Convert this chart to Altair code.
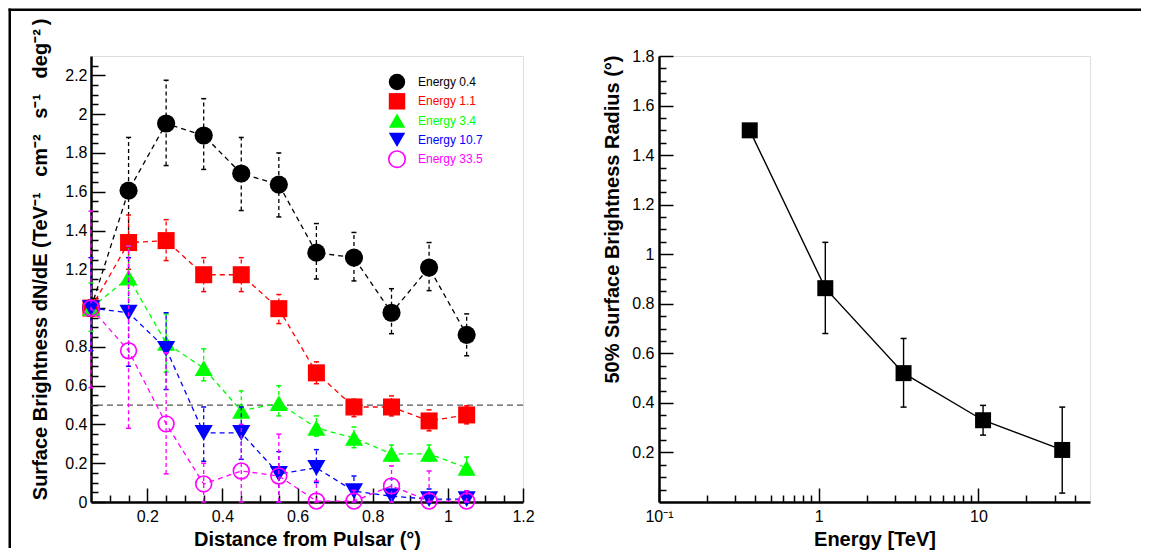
import altair as alt
import pandas as pd

# ---------------- data: left panel ----------------
distance = [0.05, 0.15, 0.25, 0.35, 0.45, 0.55, 0.65, 0.75, 0.85, 0.95, 1.05]
series_names = ["Energy 0.4", "Energy 1.1", "Energy 3.4", "Energy 10.7", "Energy 33.5"]

e04_val = [1.0, 1.606, 1.952, 1.89, 1.694, 1.637, 1.286, 1.26, 0.976, 1.209, 0.862]
e04_hi = [1.03, 1.88, 2.175, 2.08, 1.88, 1.80, 1.436, 1.39, 1.10, 1.338, 0.97]
e04_lo = [0.97, 1.33, 1.735, 1.715, 1.503, 1.47, 1.15, 1.14, 0.868, 1.09, 0.754]

e11_val = [1.0, 1.338, 1.348, 1.172, 1.172, 0.997, 0.666, 0.49, 0.49, 0.418, 0.449]
e11_hi = [1.04, 1.48, 1.456, 1.26, 1.26, 1.07, 0.723, 0.53, 0.547, 0.475, 0.496]
e11_lo = [0.96, 1.20, 1.245, 1.085, 1.085, 0.92, 0.61, 0.44, 0.444, 0.367, 0.403]

e34_val = [1.0, 1.157, 0.82, 0.69, 0.47, 0.51, 0.382, 0.33, 0.248, 0.248, 0.176]
e34_hi = [1.13, 1.32, 0.97, 0.79, 0.573, 0.60, 0.444, 0.387, 0.294, 0.294, 0.232]
e34_lo = [0.88, 1.0, 0.67, 0.625, 0.38, 0.444, 0.34, 0.28, 0.21, 0.21, 0.14]

e107_val = [1.0, 0.976, 0.79, 0.356, 0.356, 0.145, 0.176, 0.056, 0.03, 0.015, 0.015]
e107_hi = [1.26, 1.26, 0.976, 0.49, 0.49, 0.26, 0.27, 0.134, 0.12, 0.067, 0.057]
e107_lo = [0.78, 0.70, 0.58, 0.21, 0.22, 0.0, 0.1, 0.0, 0.0, 0.0, 0.0]

e335_val = [1.0, 0.78, 0.403, 0.093, 0.16, 0.134, 0.005, 0.005, 0.083, 0.005, 0.005]
e335_hi = [1.50, 1.32, 0.77, 0.20, 0.40, 0.35, 0.108, 0.06, 0.186, 0.16, 0.057]
e335_lo = [0.59, 0.38, 0.145, 0.0, 0.0, 0.0, 0.0, 0.0, 0.0, 0.0, 0.0]

half_level = [0.5]

# ---------------- data: right panel ----------------
energy = [0.37, 1.1, 3.4, 10.7, 33.5]
radius = [1.50, 0.863, 0.52, 0.33, 0.21]
radius_hi = [1.50, 1.048, 0.66, 0.39, 0.383]
radius_lo = [1.50, 0.68, 0.383, 0.27, 0.036]

# ---------------- tick values ----------------
left_x_major = [0.2, 0.4, 0.6, 0.8, 1.0, 1.2]
left_x_minor = [0.1, 0.15, 0.25, 0.3, 0.35, 0.45, 0.5, 0.55, 0.65, 0.7, 0.75,
                0.85, 0.9, 0.95, 1.05, 1.1, 1.15]
left_y_labels = [0, 0.2, 0.4, 0.6, 0.8, 1.2, 1.4, 1.6, 1.8, 2.0, 2.2]
left_y_major = [0, 0.2, 0.4, 0.6, 0.8, 1.0, 1.2, 1.4, 1.6, 1.8, 2.0, 2.2]
left_y_minor = [0.05, 0.1, 0.15, 0.25, 0.3, 0.35, 0.45, 0.5, 0.55, 0.65, 0.7, 0.75,
                0.85, 0.9, 0.95, 1.05, 1.1, 1.15, 1.25, 1.3, 1.35, 1.45, 1.5, 1.55,
                1.65, 1.7, 1.75, 1.85, 1.9, 1.95, 2.05, 2.1, 2.15, 2.25]
right_x_major = [0.1, 1, 10]
right_x_minor = [0.2, 0.3, 0.4, 0.5, 0.6, 0.7, 0.8, 0.9, 2, 3, 4, 5, 6, 7, 8, 9, 20, 30, 40]
right_y_labels = [0.2, 0.4, 0.6, 0.8, 1.0, 1.2, 1.4, 1.6, 1.8]
right_y_major = [0.2, 0.4, 0.6, 0.8, 1.0, 1.2, 1.4, 1.6, 1.8]
right_y_minor = [0.05, 0.1, 0.15, 0.25, 0.3, 0.35, 0.45, 0.5, 0.55, 0.65, 0.7, 0.75,
                 0.85, 0.9, 0.95, 1.05, 1.1, 1.15, 1.25, 1.3, 1.35, 1.45, 1.5, 1.55,
                 1.65, 1.7, 1.75]

left_y_title = "Surface Brightness dN/dE (TeV⁻¹\u2002 cm⁻²\u2002 s⁻¹\u2002 deg⁻²\u2009)"

# ---------------- styles ----------------
series_colors = ["#000000", "#ff0000", "#00ff00", "#0000ff", "#ff00ff"]
series_shapes = ["circle", "square", "triangle-up", "triangle-down", "circle"]
series_filled = [True, True, True, True, False]
series_sizes = [330, 290, 330, 330, 250]

FONT = "Liberation Sans"
W1, H1 = 432, 446
W2, H2 = 431, 446

series_vals = [e04_val, e11_val, e34_val, e107_val, e335_val]
series_his = [e04_hi, e11_hi, e34_hi, e107_hi, e335_hi]
series_los = [e04_lo, e11_lo, e34_lo, e107_lo, e335_lo]

xs1 = alt.Scale(domain=[0.05, 1.2], nice=False, zero=False)
ys1 = alt.Scale(domain=[0, 2.3], nice=False, zero=False)

NOAX = None


def xq(field, scale):
    return alt.X(field, type="quantitative", scale=scale, axis=NOAX)


def yq(field, scale):
    return alt.Y(field, type="quantitative", scale=scale, axis=NOAX)


left_layers = []

# outer frame (decoration drawn as thin rects; layout uses flush bounds)
frame_df = pd.DataFrame({"f": [0]})
left_layers.append(
    alt.Chart(frame_df).mark_rect(color="black", strokeWidth=0).encode(
        x=alt.value(-82.5), x2=alt.value(-80), y=alt.value(-47.5), y2=alt.value(492)))
left_layers.append(
    alt.Chart(frame_df).mark_rect(color="black", strokeWidth=0).encode(
        x=alt.value(-82.5), x2=alt.value(1050), y=alt.value(-47.5), y2=alt.value(-45)))

# 50% level line
left_layers.append(
    alt.Chart(pd.DataFrame({"lvl": half_level})).mark_rule(
        color="#555555", strokeDash=[6, 4], strokeWidth=1.3).encode(
        y=yq("lvl", ys1)))

for name, vals, his, los, col, shp, fil, sz in zip(
        series_names, series_vals, series_his, series_los,
        series_colors, series_shapes, series_filled, series_sizes):
    df = pd.DataFrame({"d": distance, "v": vals, "hi": his, "lo": los, "s": name})
    base = alt.Chart(df)
    left_layers.append(base.mark_line(color=col, strokeDash=[5, 4], strokeWidth=1.3).encode(
        x=xq("d", xs1), y=yq("v", ys1)))
    left_layers.append(base.mark_rule(color=col, strokeDash=[4, 3], strokeWidth=1.3).encode(
        x=xq("d", xs1), y=yq("lo", ys1), y2="hi"))
    for f in ["hi", "lo"]:
        left_layers.append(base.mark_rule(color=col, strokeWidth=1.5, xOffset=-2.5, x2Offset=2.5).encode(
            x=xq("d", xs1), x2="d", y=yq(f, ys1)))
    left_layers.append(base.mark_point(shape=shp, filled=fil, color=col, size=sz,
                                       strokeWidth=1.6, opacity=1).encode(
        x=xq("d", xs1), y=yq("v", ys1)))

# legend (manual)
for i, (name, col, shp, fil) in enumerate(zip(series_names, series_colors, series_shapes, series_filled)):
    ldf = pd.DataFrame({"label": [name]})
    yy = 26 + 19.3 * i
    left_layers.append(alt.Chart(ldf).mark_point(shape=shp, filled=fil, color=col, size=270,
                                                 strokeWidth=1.6, opacity=1).encode(
        x=alt.value(306), y=alt.value(yy)))
    left_layers.append(alt.Chart(ldf).mark_text(align="left", baseline="middle", fontSize=12,
                                                font=FONT, color=col).encode(
        x=alt.value(327), y=alt.value(yy), text="label:N"))

# axes layers (left)
axdf1 = pd.DataFrame({"d": distance, "v": e04_val})
left_layers.append(alt.Chart(axdf1).mark_point(opacity=0).encode(
    x=alt.X("d:Q", scale=xs1, axis=alt.Axis(
        orient="bottom", values=left_x_major, format="~g", ticks=False, tickSize=0,
        labelPadding=6, labelFontSize=16, labelFont=FONT, labelColor="black",
        labelFlush=False, labelOverlap=False, domain=True, domainWidth=2.5, domainColor="black",
        grid=False, title="Distance from Pulsar (°)", titleFontSize=20, titleFontWeight="bold",
        titleFont=FONT, titleColor="black", titleY=43, titleBaseline="alphabetic")),
    y=alt.Y("v:Q", scale=ys1, axis=alt.Axis(
        orient="left", values=left_y_labels, format="~g", ticks=False, tickSize=0,
        labelPadding=4, labelFontSize=16, labelFont=FONT, labelColor="black",
        labelFlush=False, labelOverlap=False, domain=True, domainWidth=2.5, domainColor="black",
        grid=False, title=left_y_title,
        titleFontSize=20, titleFontWeight="bold", titleFont=FONT, titleColor="black",
        titleAngle=270, titleAlign="right", titleBaseline="alphabetic",
        titleX=-45, titleY=-38))))

for xv, yv, ts in [(left_x_major, left_y_major, 14), (left_x_minor, left_y_minor, 7)]:
    left_layers.append(alt.Chart(axdf1).mark_point(opacity=0).encode(
        x=alt.X("d:Q", scale=xs1, axis=alt.Axis(
            orient="top", offset=-H1, values=xv, labels=False, domain=False, ticks=True,
            tickSize=ts, tickWidth=1.5, tickColor="black", grid=False, title=None)),
        y=alt.Y("v:Q", scale=ys1, axis=alt.Axis(
            orient="right", offset=-W1, values=yv, labels=False, domain=False, ticks=True,
            tickSize=ts, tickWidth=1.5, tickColor="black", grid=False, title=None))))

left = alt.layer(*left_layers).resolve_axis(x="independent", y="independent").properties(
    width=W1, height=H1)

# ---------------- right panel ----------------
xs2 = alt.Scale(type="log", domain=[0.1, 50], nice=False)
ys2 = alt.Scale(domain=[0, 1.8], nice=False, zero=False)

rdf = pd.DataFrame({"e": energy, "r": radius, "hi": radius_hi, "lo": radius_lo})
rbase = alt.Chart(rdf)
right_layers = [
    rbase.mark_line(color="black", strokeWidth=1.4).encode(x=xq("e", xs2), y=yq("r", ys2)),
    rbase.mark_rule(color="black", strokeWidth=1.4).encode(x=xq("e", xs2), y=yq("lo", ys2), y2="hi"),
    rbase.mark_rule(color="black", strokeWidth=1.5, xOffset=-3, x2Offset=3).encode(
        x=xq("e", xs2), x2="e", y=yq("hi", ys2)),
    rbase.mark_rule(color="black", strokeWidth=1.5, xOffset=-3, x2Offset=3).encode(
        x=xq("e", xs2), x2="e", y=yq("lo", ys2)),
    rbase.mark_point(shape="square", filled=True, color="black", size=256, opacity=1).encode(
        x=xq("e", xs2), y=yq("r", ys2)),
]

right_layers.append(rbase.mark_point(opacity=0).encode(
    x=alt.X("e:Q", scale=xs2, axis=alt.Axis(
        orient="bottom", values=right_x_major,
        labelExpr="datum.value < 0.5 ? '10⁻¹' : format(datum.value, '~g')",
        ticks=False, tickSize=0, labelPadding=6, labelFontSize=16, labelFont=FONT,
        labelColor="black", labelFlush=False, labelOverlap=False, domain=True,
        domainWidth=2.5, domainColor="black", grid=False, title="Energy [TeV]",
        titleFontSize=20, titleFontWeight="bold", titleFont=FONT, titleColor="black",
        titleY=43, titleBaseline="alphabetic")),
    y=alt.Y("r:Q", scale=ys2, axis=alt.Axis(
        orient="left", values=right_y_labels, format="~g", ticks=False, tickSize=0,
        labelPadding=5, labelFontSize=16, labelFont=FONT, labelColor="black",
        labelFlush=False, labelOverlap=False, domain=True, domainWidth=2.5, domainColor="black",
        grid=False, title="50% Surface Brightness Radius (°)",
        titleFontSize=20, titleFontWeight="bold", titleFont=FONT, titleColor="black",
        titleAngle=270, titleAlign="right", titleBaseline="alphabetic",
        titleX=-41, titleY=-1))))

for xv, yv, ts in [(right_x_major, right_y_major, 14), (right_x_minor, right_y_minor, 7)]:
    right_layers.append(rbase.mark_point(opacity=0).encode(
        x=alt.X("e:Q", scale=xs2, axis=alt.Axis(
            orient="top", offset=-H2, values=xv, labels=False, domain=False, ticks=True,
            tickSize=ts, tickWidth=1.5, tickColor="black", grid=False, title=None)),
        y=alt.Y("r:Q", scale=ys2, axis=alt.Axis(
            orient="right", offset=-W2, values=yv, labels=False, domain=False, ticks=True,
            tickSize=ts, tickWidth=1.5, tickColor="black", grid=False, title=None))))

right = alt.layer(*right_layers).resolve_axis(x="independent", y="independent").properties(
    width=W2, height=H2)

chart = alt.hconcat(left, right, spacing=136, bounds="flush").properties(
    padding=0, background="white"
).configure_view(stroke="black", strokeWidth=2).configure(font=FONT)

chart.save("out.html", embed_options={"renderer": "svg", "actions": False})
